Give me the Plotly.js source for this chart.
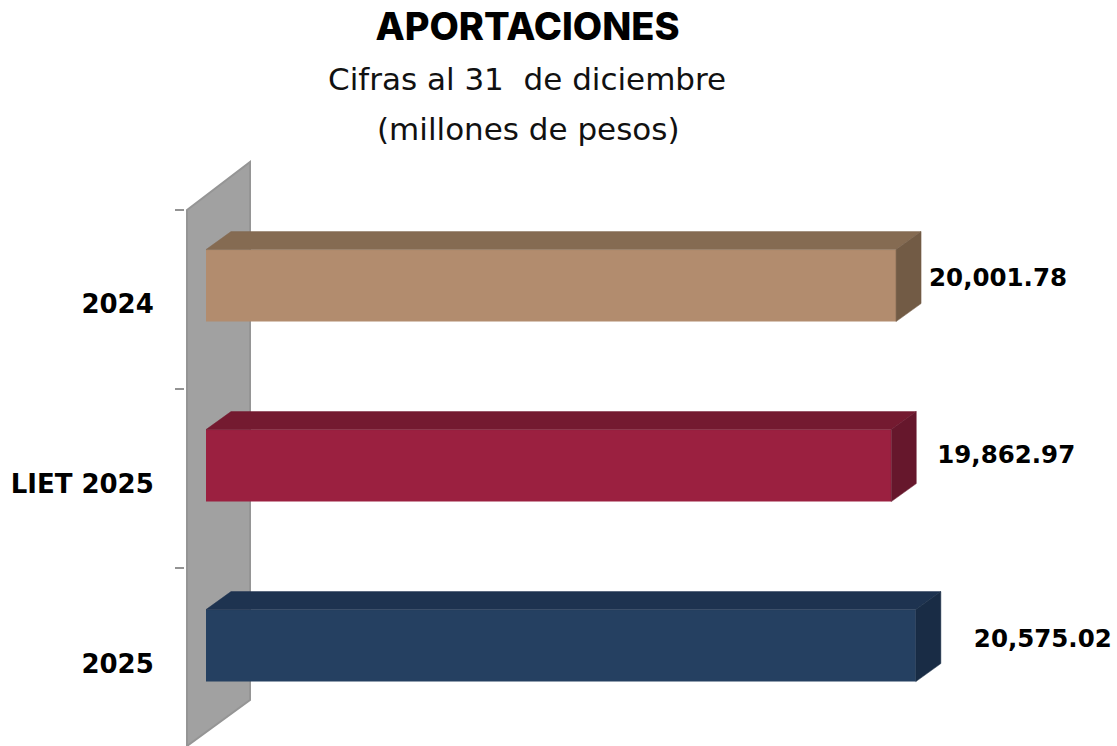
<!DOCTYPE html>
<html>
<head>
<meta charset="utf-8">
<script src="https://cdn.plot.ly/plotly-3.0.1.min.js"></script>
<style>html,body{margin:0;padding:0;background:#fff;overflow:hidden}</style>
</head>
<body>
<div id="chart" style="width:1117px;height:746px"></div>
<script>
const categories = ['2024', 'LIET 2025', '2025'];
const values = [20001.78, 19862.97, 20575.02];
const valueLabels = ['20,001.78', '19,862.97', '20,575.02'];
const frontColors = ['#B28C6E', '#9B2040', '#254061'];
const topColors = ['#856B52', '#741A30', '#1E3350'];
const sideColors = ['#725B45', '#66172C', '#192C45'];
const labelGapPx = [33, 46, 58];
const labelRisePx = [6, 9, 5];

const W = 1117, H = 746;
const pxPerUnit = 0.0345, pxPerBand = 180;
const plotLeft = 185, plotTop = 160, zeroPx = 206, firstBandPx = 300;
const dxPx = 25, dyPx = 18;
const dx = dxPx / pxPerUnit, dy = dyPx / pxPerBand;
const barOffset = -0.28, barWidth = 0.4;
const xMin = (plotLeft - zeroPx) / pxPerUnit, xMax = (W - zeroPx) / pxPerUnit;
const yAt = px => (px - firstBandPx) / pxPerBand;
const xAt = px => (px - zeroPx) / pxPerUnit;
const idx = categories.map((_, i) => i);

const traces = [{
  type: 'bar', orientation: 'h', y: idx, x: values,
  offset: barOffset, width: barWidth,
  marker: {color: frontColors, line: {width: 0}},
  hoverinfo: 'skip', showlegend: false
}];

idx.forEach(i => {
  const yT = i + barOffset, yB = yT + barWidth, v = values[i];
  traces.push({
    type: 'scatter', mode: 'lines', fill: 'toself', fillcolor: topColors[i],
    line: {width: 0.5, color: topColors[i]}, hoverinfo: 'skip', showlegend: false,
    x: [0, dx, v + dx, v, 0], y: [yT, yT - dy, yT - dy, yT, yT]
  });
  traces.push({
    type: 'scatter', mode: 'lines', fill: 'toself', fillcolor: sideColors[i],
    line: {width: 0.5, color: sideColors[i]}, hoverinfo: 'skip', showlegend: false,
    x: [v, v + dx, v + dx, v, v], y: [yT, yT - dy, yB - dy, yB, yT]
  });
});

traces.push({
  type: 'scatter', mode: 'text', cliponaxis: false,
  x: values.map((v, i) => v + labelGapPx[i] / pxPerUnit),
  y: idx.map(i => i + barOffset + barWidth / 2 - labelRisePx[i] / pxPerBand),
  text: valueLabels, textposition: 'middle right',
  textfont: {family: 'DejaVu Sans', size: 24.5, color: '#000', weight: 700},
  hoverinfo: 'skip', showlegend: false
});

const wall = 'M' + xAt(187) + ',' + yAt(210) + ' L' + xAt(250) + ',' + yAt(162) +
             ' L' + xAt(250) + ',' + yAt(700) + ' L' + xAt(187) + ',' + yAt(746) + ' Z';

const layout = {
  width: W, height: H,
  margin: {l: plotLeft, r: 0, t: plotTop, b: 0, pad: 0},
  paper_bgcolor: '#fff', plot_bgcolor: '#fff',
  showlegend: false,
  title: {
    text: 'APORTACIONES',
    font: {family: 'Inter', size: 38, color: '#000', weight: 800},
    x: 527.5 / W, xanchor: 'center', y: 1 - 27 / H, yanchor: 'middle'
  },
  xaxis: {range: [xMin, xMax], visible: false, fixedrange: true},
  yaxis: {
    range: [yAt(H), yAt(plotTop)], fixedrange: true, showgrid: false, zeroline: false,
    showline: false,
    tickmode: 'array', tickvals: [0.02, 1.02, 2.02], ticktext: categories,
    ticks: 'outside', ticklen: 25, tickcolor: 'rgba(0,0,0,0)',
    tickfont: {family: 'DejaVu Sans', size: 26, color: '#000', weight: 700},
    minor: {
      tickmode: 'array', tickvals: [yAt(210), yAt(389), yAt(568)],
      ticks: 'outside', ticklen: 9, tickwidth: 2, tickcolor: '#939393', showgrid: false
    }
  },
  shapes: [{
    type: 'path', xref: 'x', yref: 'y', layer: 'below', path: wall,
    fillcolor: '#A1A1A1', line: {color: '#959595', width: 2}
  }],
  annotations: [
    {text: 'Cifras al 31  de diciembre', xref: 'paper', yref: 'paper',
     x: (527 - plotLeft) / (W - plotLeft), y: (H - 79) / (H - plotTop), xanchor: 'center', yanchor: 'middle',
     showarrow: false, font: {family: 'DejaVu Sans', size: 31, color: '#111'}},
    {text: '(millones de pesos)', xref: 'paper', yref: 'paper',
     x: (528 - plotLeft) / (W - plotLeft), y: (H - 129) / (H - plotTop), xanchor: 'center', yanchor: 'middle',
     showarrow: false, font: {family: 'DejaVu Sans', size: 31, color: '#111'}}
  ]
};

Plotly.newPlot('chart', traces, layout, {displayModeBar: false, staticPlot: true});
</script>
</body>
</html>
